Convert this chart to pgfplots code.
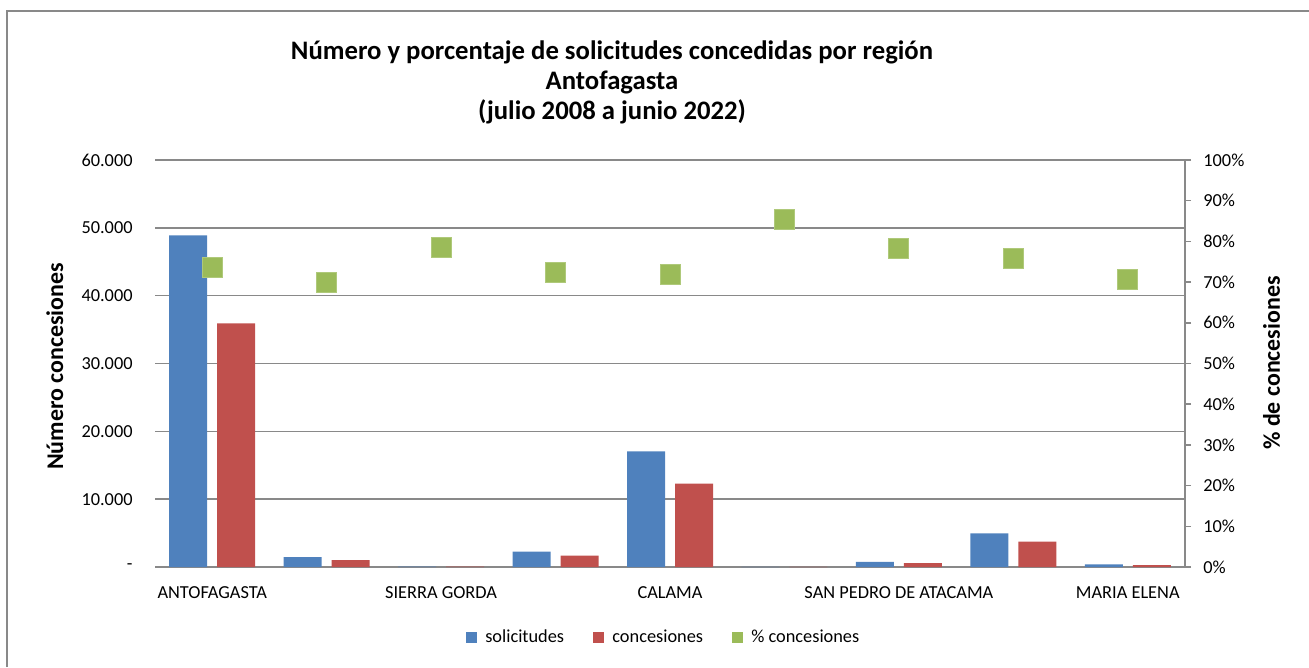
\documentclass[border=0pt]{standalone}
\usepackage{fontspec}
\setmainfont{Carlito}
\usepackage{pgfplots}
\pgfplotsset{compat=1.18}
\definecolor{cblue}{HTML}{4F81BD}
\definecolor{cred}{HTML}{C0504D}
\definecolor{cgreen}{HTML}{9BBB59}
\definecolor{cgrid}{HTML}{898989}
\begin{document}
\begin{tikzpicture}[x=1bp,y=1bp]
\useasboundingbox (-77.5,-50) rectangle (577,283.5);
\draw[cgrid, line width=0.8bp] (-74,-50) -- (-74,278) -- (577,278);
\node[anchor=base, font=\fontsize{13.4}{15}\selectfont\bfseries] at (228.5,254) {Número y porcentaje de solicitudes concedidas por región};
\node[anchor=base, font=\fontsize{13.4}{15}\selectfont\bfseries] at (228.5,238.75) {Antofagasta};
\node[anchor=base, font=\fontsize{13.4}{15}\selectfont\bfseries] at (228.5,223.75) {(julio 2008 a junio 2022)};
\begin{axis}[
  scale only axis, width=515bp, height=203.5bp,
  xmin=-0.5, xmax=8.5, ymin=0, ymax=60000,
  scaled y ticks=false,
  ybar=5bp, bar width=19bp,
  xtick={0,...,8},
  xticklabels={ANTOFAGASTA,,SIERRA GORDA,,CALAMA,,SAN PEDRO DE ATACAMA,,MARIA ELENA},
  ytick={0,10000,20000,30000,40000,50000,60000},
  yticklabels={-,10.000,20.000,30.000,40.000,50.000,60.000},
  ymajorgrids, grid style={cgrid, line width=0.75bp},
  axis x line*=bottom, axis y line*=left,
  x axis line style={cgrid, line width=0.75bp, -},
  y axis line style={draw=none},
  major tick length=0pt,
  tick label style={font=\fontsize{9.2}{11}\selectfont, text=black},
  xticklabel style={inner sep=0pt, anchor=north, yshift=-9.5bp},
  yticklabel style={inner sep=0pt, anchor=east, xshift=-11bp},
  ylabel={Número concesiones},
  ylabel style={font=\fontsize{12}{14}\selectfont\bfseries, at={(axis description cs:-0.0893,0.4926)}, anchor=base, rotate=0},
  clip=false,
]
\addplot[fill=cblue, draw=none] coordinates {(0,48900) (1,1450) (2,60) (3,2270) (4,17040) (5,20) (6,750) (7,4950) (8,400)};
\addplot[fill=cred, draw=none] coordinates {(0,35900) (1,1015) (2,47) (3,1675) (4,12300) (5,17) (6,587) (7,3750) (8,282)};
\end{axis}
\begin{axis}[
  scale only axis, width=515bp, height=203.5bp,
  xmin=-0.5, xmax=8.5, ymin=0, ymax=100,
  axis x line=none, axis y line*=right,
  y axis line style={cgrid, line width=0.75bp, -},
  ytick={0,10,...,100},
  yticklabels={0\%,10\%,20\%,30\%,40\%,50\%,60\%,70\%,80\%,90\%,100\%},
  ytick style={cgrid, line width=0.75bp},
  tick align=outside, major tick length=3bp,
  tick label style={font=\fontsize{9.2}{11}\selectfont, text=black},
  yticklabel style={inner sep=0pt, anchor=west, xshift=6bp},
  ylabel={\% de concesiones},
  ylabel style={font=\fontsize{12}{14}\selectfont\bfseries, at={(axis description cs:1.0922,0.501)}, anchor=base, rotate=0},
  legend image code/.code={\fill[#1] (0bp,-2.9bp) rectangle (5.8bp,2.9bp);},
  legend style={draw=none, fill=none, legend columns=3,
    at={(0.4927,-0.1732)}, anchor=center,
    font=\fontsize{9.2}{11}\selectfont,
    nodes={inner sep=0pt},
    /tikz/every odd column/.append style={column sep=4bp},
    /tikz/every even column/.append style={column sep=14.3bp}},
  clip=false,
]
\addlegendimage{fill=cblue, draw=none}
\addlegendentry{solicitudes}
\addlegendimage{fill=cred, draw=none}
\addlegendentry{concesiones}
\addlegendimage{fill=cgreen, draw=none}
\addlegendentry{\% concesiones}
\addplot[only marks, mark=square*, mark size=5bp, mark options={fill=cgreen, draw=cgreen!80!white}, forget plot] coordinates {(0,73.6) (1,70.0) (2,78.6) (3,72.3) (4,72.0) (5,85.3) (6,78.3) (7,75.8) (8,70.6)};
\end{axis}
\end{tikzpicture}
\end{document}
